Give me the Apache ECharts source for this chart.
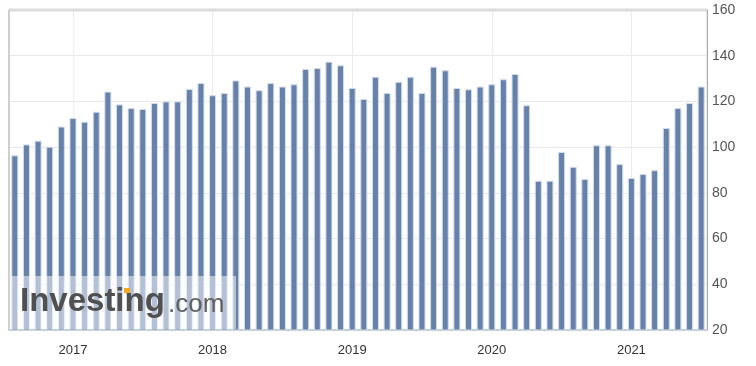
<!DOCTYPE html>
<html>
<head>
<meta charset="utf-8">
<script src="https://cdn.jsdelivr.net/npm/echarts@6/dist/echarts.min.js"></script>
<style>
html,body{margin:0;padding:0;background:#fff;}
#c{width:756px;height:366px;}
</style>
</head>
<body>
<div id="c"></div>
<script>
// Monthly categories Aug 2016 - Jul 2021
const months = [
 '2016-08','2016-09','2016-10','2016-11','2016-12',
 '2017-01','2017-02','2017-03','2017-04','2017-05','2017-06','2017-07','2017-08','2017-09','2017-10','2017-11','2017-12',
 '2018-01','2018-02','2018-03','2018-04','2018-05','2018-06','2018-07','2018-08','2018-09','2018-10','2018-11','2018-12',
 '2019-01','2019-02','2019-03','2019-04','2019-05','2019-06','2019-07','2019-08','2019-09','2019-10','2019-11','2019-12',
 '2020-01','2020-02','2020-03','2020-04','2020-05','2020-06','2020-07','2020-08','2020-09','2020-10','2020-11','2020-12',
 '2021-01','2021-02','2021-03','2021-04','2021-05','2021-06','2021-07'
];
const values = [
 96.4, 101.2, 102.8, 100.2, 109.0,
 112.8, 111.1, 115.5, 124.3, 118.7, 117.1, 116.7, 119.3, 120.0, 120.0, 125.4, 128.1,
 122.7, 123.7, 129.2, 126.5, 124.9, 128.1, 126.5, 127.5, 134.2, 134.6, 137.4, 135.8,
 125.9, 121.1, 130.8, 123.7, 128.6, 130.8, 123.7, 135.2, 133.6, 125.9, 125.3, 126.5,
 127.5, 129.7, 132.0, 118.3, 85.3, 85.3, 97.9, 91.4, 86.1, 100.8, 100.8, 92.6,
 86.5, 88.2, 89.9, 108.4, 117.1, 119.3, 126.5
];
const yTicks = [20, 40, 60, 80, 100, 120, 140, 160];
const yearMarks = ['2017-01','2018-01','2019-01','2020-01','2021-01'];

const chart = echarts.init(document.getElementById('c'), null, {renderer: 'canvas'});
chart.setOption({
  animation: false,
  backgroundColor: '#fff',
  grid: {left: 9, right: 49, top: 10, bottom: 36, show: true, borderColor: '#d4d4d4', borderWidth: 1},
  xAxis: {
    type: 'category',
    data: months,
    boundaryGap: true,
    axisLine: {show: true, lineStyle: {color: '#c5cfdf', width: 2}},
    axisTick: {show: false},
    splitLine: {show: false},
    axisLabel: {
      color: '#333', fontFamily: 'Arial, Liberation Sans', fontSize: 13, margin: 14,
      interval: function (i, v) { return v.slice(5) === '01'; },
      formatter: function (v) { return v.slice(0, 4); }
    }
  },
  yAxis: {
    type: 'value',
    position: 'right',
    min: yTicks[0], max: yTicks[yTicks.length - 1], interval: 20,
    axisLine: {show: true, lineStyle: {color: '#aaa', width: 1}},
    axisTick: {show: false},
    splitLine: {show: true, lineStyle: {color: '#e9e9e9', width: 1}},
    axisLabel: {color: '#555', fontFamily: 'Arial, Liberation Sans', fontSize: 14, margin: 5}
  },
  series: [{
    type: 'bar',
    data: values,
    barWidth: 7,
    z: 3,
    itemStyle: {color: '#6681aa', borderColor: '#d3dcea', borderWidth: 1},
    markLine: {
      silent: true, z: 1, symbol: 'none', label: {show: false},
      lineStyle: {color: '#ececec', type: 'solid', width: 1},
      data: yearMarks.map(m => ({xAxis: m}))
    }
  }],
  graphic: [
    {type: 'line', z: 10, shape: {x1: 9, y1: 10, x2: 707, y2: 10}, style: {stroke: '#dcdcdc', lineWidth: 3}},
    {type: 'line', z: 10, shape: {x1: 9, y1: 10, x2: 9, y2: 330}, style: {stroke: '#cfcfcf', lineWidth: 2}},
    {type: 'rect', z: 20, shape: {x: 10, y: 276, width: 226, height: 53}, style: {fill: 'rgba(255,255,255,0.5)'}},
    {type: 'text', z: 21, style: {x: 20, y: 318, text: 'Investing', fill: '#505050', font: 'bold 33px "Liberation Sans", Arial', textVerticalAlign: 'bottom'}},
    {type: 'text', z: 21, style: {x: 168, y: 318, text: '.com', fill: '#606060', font: '26px "Liberation Sans", Arial', textVerticalAlign: 'bottom'}},
    {type: 'rect', z: 22, shape: {x: 124, y: 288, width: 6, height: 5}, style: {fill: '#f4a825'}}
  ]
});
</script>
</body>
</html>
